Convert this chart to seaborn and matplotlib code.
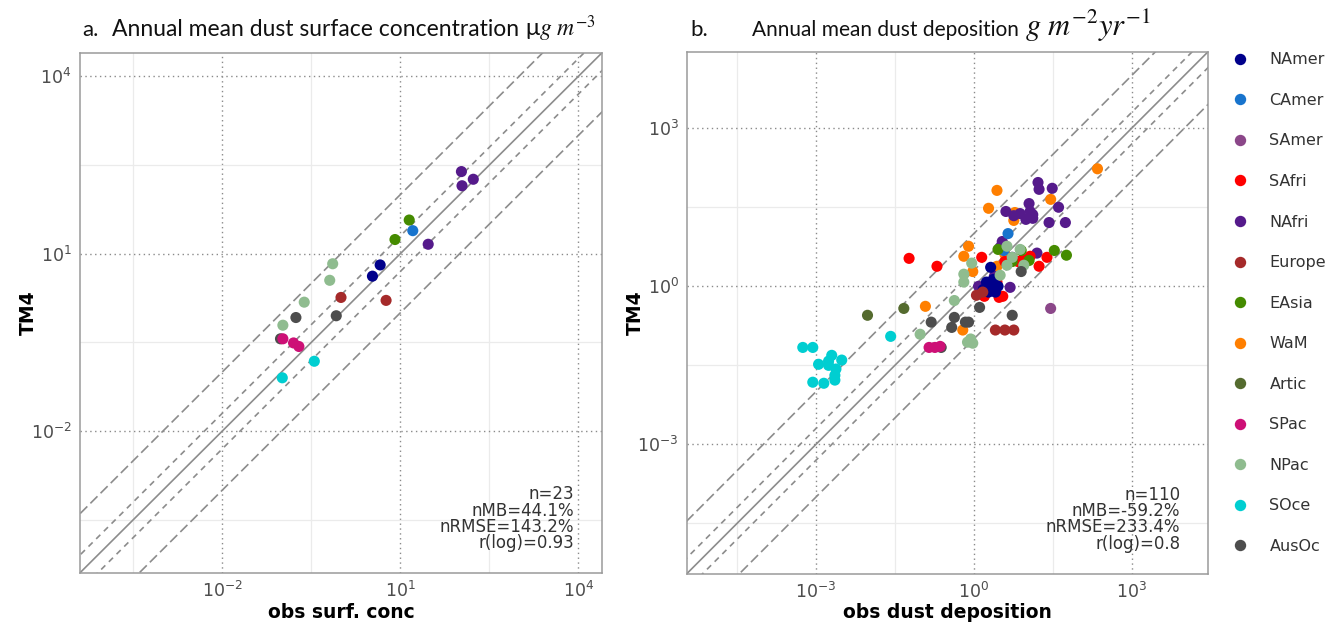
import numpy as np
import pandas as pd
import matplotlib
matplotlib.use("Agg")
import matplotlib.pyplot as plt
import seaborn as sns
from matplotlib.ticker import FixedLocator, LogFormatterSciNotation, NullFormatter
from matplotlib.lines import Line2D

sns.set_style("white")
plt.rcParams["font.family"] = ["DejaVu Sans"]

# ---------------- data ----------------
regions = ["NAmer", "CAmer", "SAmer", "SAfri", "NAfri", "Europe", "EAsia",
           "WaM", "Artic", "SPac", "NPac", "SOce", "AusOc"]
region_colors = ["#00008B", "#1874CD", "#8B4789", "#FF0000", "#551A8B", "#A52A2A",
                 "#458B00", "#FF7F00", "#556B2F", "#CD1076", "#8FBC8F", "#00CED1", "#4D4D4D"]

# Panel a: surface concentration (log10 of obs / model)
a_region = ["NAfri", "NAfri", "NAfri", "NAfri", "EAsia", "EAsia", "CAmer",
            "NAmer", "NAmer", "NPac", "NPac", "NPac", "NPac", "Europe", "Europe",
            "AusOc", "AusOc", "AusOc", "SPac", "SPac", "SPac", "SOce", "SOce"]
a_obs_exp = [2.03, 2.23, 2.04, 1.47, 1.15, 0.91, 1.21,
             0.66, 0.53, -0.14, -0.19, -0.62, -0.98, 0.00, 0.76,
             -0.76, -0.08, -1.02, -0.98, -0.80, -0.71, -0.45, -0.99]
a_mod_exp = [2.39, 2.26, 2.15, 1.16, 1.57, 1.24, 1.39,
             0.81, 0.62, 0.83, 0.55, 0.18, -0.21, 0.26, 0.21,
             -0.08, -0.05, -0.44, -0.44, -0.51, -0.57, -0.82, -1.10]
a_stats = ["n=23", "nMB=44.1%", "nRMSE=143.2%", "r(log)=0.93"]

# Panel b: deposition (log10 of obs / model)
b_region = (["WaM"] * 13 + ["NAfri"] * 21 + ["SAfri"] * 13 + ["NAmer"] * 8 +
            ["CAmer"] * 2 + ["SAmer"] * 1 + ["EAsia"] * 6 + ["Europe"] * 5 +
            ["NPac"] * 14 + ["AusOc"] * 9 + ["Artic"] * 2 + ["SPac"] * 3 + ["SOce"] * 13)
b_obs_exp = [
    # WaM
    2.35, 0.44, 0.28, 1.46, 0.78, 0.76, -0.10, -0.19, -0.02, 0.44, -0.92, -0.21, 0.59,
    # NAfri
    1.22, 1.24, 1.49, 1.05, 1.61, 0.61, 0.76, 0.99, 1.12, 1.12, 1.43, 1.74, 0.54,
    0.73, 1.20, 0.09, 0.69, 0.39, 0.88, 1.07, 0.50,
    # SAfri
    -1.23, -0.70, 0.15, 0.93, 1.07, 1.39, 1.24, 0.44, 0.20, 0.48, 0.59, 0.55, 0.84,
    # NAmer
    0.32, 0.24, 0.34, 0.41, 0.46, 0.18, 0.28, 0.37,
    # CAmer
    0.65, 0.57,
    # SAmer
    1.46,
    # EAsia
    0.46, 0.90, 1.05, 1.53, 1.76, 0.73,
    # Europe
    0.05, 0.41, 0.59, 0.76, 0.17,
    # NPac
    0.63, 0.88, 0.95, 0.63, 0.50, -0.04, -0.19, -0.19, -0.37, -1.02, -0.12, -0.02, 0.73, -0.06,
    # AusOc
    0.90, 0.11, 0.73, -0.37, -0.16, -0.10, -0.81, -0.42, -0.62,
    # Artic
    -2.02, -1.33,
    # SPac
    -0.85, -0.74, -0.64,
    # SOce
    -3.25, -3.06, -2.70, -2.51, -2.95, -2.76, -2.76, -2.62, -2.64, -2.64, -3.06, -2.85, -1.58,
]
b_mod_exp = [
    # WaM
    2.23, 1.82, 1.48, 1.65, 1.40, 1.25, 0.76, 0.57, 0.28, 0.38, -0.38, -0.83, 0.61,
    # NAfri
    1.97, 1.84, 1.86, 1.57, 1.50, 1.42, 1.34, 1.27, 1.36, 1.29, 1.21, 1.21, 0.85,
    0.55, 0.63, 0.00, -0.02, 0.19, 1.38, 1.42, 0.74,
    # SAfri
    0.53, 0.38, 0.55, 0.51, 0.57, 0.55, 0.38, 0.08, -0.19, -0.21, 0.47, -0.19, 0.47,
    # NAmer
    0.36, 0.08, -0.06, -0.11, 0.00, -0.06, -0.11, 0.13,
    # CAmer
    1.00, 0.68,
    # SAmer
    -0.42,
    # EAsia
    0.70, 0.68, 0.49, 0.68, 0.59, 0.47,
    # Europe
    -0.17, -0.83, -0.83, -0.83, -0.11,
    # NPac
    0.76, 0.70, 0.40, 0.40, 0.21, 0.44, 0.23, 0.08, -0.27, -0.91, -1.06, -1.08, 0.55, -1.00,
    # AusOc
    0.28, -0.40, -0.55, -0.59, -0.68, -0.68, -0.68, -0.78, -1.16,
    # Artic
    -0.55, -0.42,
    # SPac
    -1.16, -1.16, -1.14,
    # SOce
    -1.16, -1.16, -1.31, -1.40, -1.48, -1.42, -1.50, -1.57, -1.69, -1.78, -1.82, -1.84, -0.95,
]
b_stats = ["n=110", "nMB=-59.2%", "nRMSE=233.4%", "r(log)=0.8"]

a_ticks = [1e-2, 1e1, 1e4]
a_minor = [10 ** -3.5, 10 ** -0.5, 10 ** 2.5]
a_lim = (10 ** -4.4, 10 ** 4.4)
b_ticks = [1e-3, 1e0, 1e3]
b_minor = [10 ** -4.5, 10 ** -1.5, 10 ** 1.5]
b_lim = (10 ** -5.45, 10 ** 4.45)

palette = dict(zip(regions, region_colors))

df_a = pd.DataFrame({"region": a_region,
                     "obs": np.power(10.0, a_obs_exp),
                     "model": np.power(10.0, a_mod_exp)})
df_b = pd.DataFrame({"region": b_region,
                     "obs": np.power(10.0, b_obs_exp),
                     "model": np.power(10.0, b_mod_exp)})

# ---------------- figure ----------------
W, H = 1328, 622
fig = plt.figure(figsize=(W / 100, H / 100), dpi=100)
ax_a = fig.add_axes([80 / W, (H - 572.8) / H, 522 / W, 520 / H])
ax_b = fig.add_axes([687 / W, (H - 573.5) / H, 521 / W, 521.7 / H])

grid_major = "#8a8a8a"
grid_minor = "#ebebeb"
line_col = "#8c8c8c"


def style_axes(ax, df, ticks, minor, lim, stats, xlabel):
    ax.set_xscale("log")
    ax.set_yscale("log")
    ax.set_xlim(*lim)
    ax.set_ylim(*lim)
    for axis in (ax.xaxis, ax.yaxis):
        axis.set_major_locator(FixedLocator(ticks))
        axis.set_minor_locator(FixedLocator(minor))
        axis.set_major_formatter(LogFormatterSciNotation())
        axis.set_minor_formatter(NullFormatter())
    ax.grid(True, which="minor", color=grid_minor, lw=0.9, ls="-", zorder=0)
    ax.grid(True, which="major", color=grid_major, lw=1.0, ls=(0, (1, 2.5)), zorder=0)
    ax.tick_params(which="minor", length=0)
    ax.tick_params(which="major", length=4, width=0.8, color="#555555",
                   labelsize=12.5, labelcolor="#4D4D4D", pad=2)
    for sp in ax.spines.values():
        sp.set_color("#9a9a9a")
        sp.set_linewidth(1.1)
    ax.set_axisbelow(True)

    xx = np.logspace(-7, 7, 400)
    ax.plot(xx, xx, color=line_col, lw=1.2, zorder=1)
    for f in (2.0, 0.5):
        ax.plot(xx, xx * f, color=line_col, lw=1.2, ls=(0, (3.5, 3.0)), zorder=1)
    for f in (10.0, 0.1):
        ax.plot(xx, xx * f, color=line_col, lw=1.2, ls=(0, (6, 2.6)), zorder=1)

    sns.scatterplot(data=df, x="obs", y="model", hue="region", hue_order=regions,
                    palette=palette, s=64, linewidth=0, alpha=1, legend=False,
                    ax=ax, zorder=3)
    ax.set_xlim(*lim)
    ax.set_ylim(*lim)

    ax.text(0.947, 0.168, "\n".join(stats), transform=ax.transAxes, ha="right",
            va="top", fontsize=12, color="#333333", linespacing=0.88)
    ax.set_xlabel(xlabel, fontsize=13.5, fontweight="bold", color="black", labelpad=1)
    ax.set_ylabel("TM4", fontsize=13.5, fontweight="bold", color="black", labelpad=-5)


style_axes(ax_a, df_a, a_ticks, a_minor, a_lim, a_stats, "obs surf. conc")
style_axes(ax_b, df_b, b_ticks, b_minor, b_lim, b_stats, "obs dust deposition")

# titles (text followed by the unit, chained by measured width)
title_kw = dict(family="Lato", va="baseline", ha="left", color="#111111",
                math_fontfamily="stix")
ty = 1 - 36 / H
renderer = fig.canvas.get_renderer()


def chain(x_px, parts):
    x = x_px
    for txt, size, gap in parts:
        t = fig.text((x + gap) / W, ty, txt, fontsize=size, **title_kw)
        bb = t.get_window_extent(renderer)
        x = bb.x1


chain(82, [("a.", 16, 0)])
chain(112, [("Annual mean dust surface concentration", 16.5, 0),
            ("μ$g\\ m^{-3}$", 17, 6)])
chain(690, [("b.", 16, 0)])
chain(752, [("Annual mean dust deposition", 15, 0),
            ("$g\\ m^{-2}yr^{-1}$", 22, 6)])

# legend
handles = [Line2D([0], [0], marker="o", ls="none", markersize=8.2,
                  markerfacecolor=c, markeredgewidth=0) for c in region_colors]
fig.legend(handles, regions, loc="upper left", bbox_to_anchor=(1218 / W, 1 - 38 / H),
           bbox_transform=fig.transFigure, frameon=False, fontsize=11.5,
           labelspacing=1.6, handlelength=1.0, handletextpad=1.32,
           labelcolor="#333333")

fig.savefig("out.png", dpi=100)
